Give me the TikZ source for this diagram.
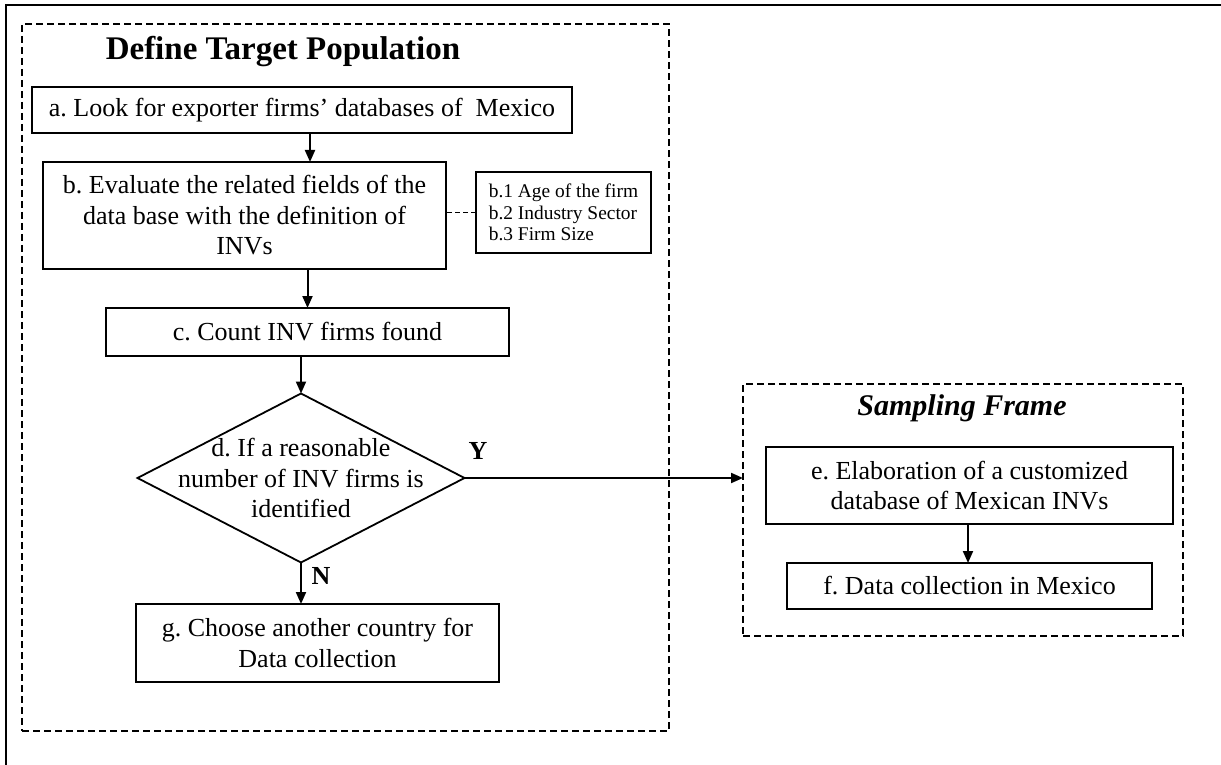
\documentclass[tikz,border=0pt]{standalone}
\usepackage{fontspec}
\setmainfont{Liberation Serif}
\usetikzlibrary{arrows.meta,shapes.geometric}

\begin{document}
\frenchspacing
\begin{tikzpicture}[x=1pt,y=-1pt,
  every node/.style={inner sep=0pt, outer sep=0pt},
  txt/.style={font=\fontsize{26}{30.5}\selectfont, align=center},
  stepbox/.style={draw, line width=2pt, txt},
  notebox/.style={draw, line width=2pt, font=\fontsize{19.4}{21.5}\selectfont, align=left},
  group/.style={draw, line width=1.8pt, dash pattern=on 7pt off 4pt},
  decision/.style={diamond, draw, line width=1.8pt},
  flow/.style={line width=2pt, -{Triangle[length=12pt,width=10pt]}},
  tag/.style={font=\fontsize{26}{30}\selectfont\bfseries},
]
\useasboundingbox (0,0) rectangle (1221,765);

% outer page frame (only top and left edges show)
\coordinate (frameTL) at (6,5);
\coordinate (frameTR) at (1221,5);
\coordinate (frameBL) at (6,765);
\draw[line width=2pt] (frameBL) -- (frameTL) -- (frameTR);

% groups
\node[group, minimum width=647pt, minimum height=707pt] (pop) at (345.5,377.5) {};
\node[font=\fontsize{33}{36}\selectfont\bfseries] (popT) at (283,52) {Define Target Population};

\node[group, minimum width=440pt, minimum height=252pt] (sf) at (963,510) {};
\node[font=\fontsize{30}{34}\selectfont\bfseries\itshape] (sfT) at (962,408) {Sampling Frame};

% steps
\node[stepbox, minimum width=540pt, minimum height=46pt] (a) at (302,110)
  {a. Look for exporter firms' databases of\ \ Mexico};
\node[stepbox, minimum width=403pt, minimum height=107pt] (b) at (244.5,215.5)
  {b. Evaluate the related fields of the\\data base with the definition of\\INVs};
\node[notebox, minimum width=175pt, minimum height=81pt] (bn) at (563.5,212.5)
  {b.1 Age of the firm\\b.2 Industry Sector\\b.3 Firm Size};
\node[stepbox, minimum width=403pt, minimum height=48pt] (c) at (307.5,332)
  {c. Count INV firms found};
\node[decision, minimum width=327pt, minimum height=169pt] (d) at (301,478) {};
\node[txt] (dtext) at (d.center) {d. If a reasonable\\number of INV firms is\\identified};
\node[stepbox, minimum width=363pt, minimum height=78pt] (g) at (317.5,643)
  {g. Choose another country for\\Data collection};
\node[stepbox, minimum width=407pt, minimum height=77pt] (e) at (969.5,485.5)
  {e. Elaboration of a customized\\database of Mexican INVs};
\node[stepbox, minimum width=365pt, minimum height=46pt] (f) at (969.5,586)
  {f. Data collection in Mexico};

% branch labels
\node[tag] (yes) at (478,451) {Y};
\node[tag] (no) at (321,576) {N};

% connectors
\draw[flow] ([xshift=8pt]a.south) -- ([xshift=8pt]a.south |- b.north);
\draw[line width=1.8pt, dash pattern=on 5pt off 3pt] (bn.west) -- (bn.west -| b.east);
\draw[flow] (c.north |- b.south) -- (c.north);
\draw[flow] (d.north |- c.south) -- (d.north);
\draw[flow] (d.south) -- (d.south |- g.north);
\draw[flow] (d.east) -- (d.east -| sf.west);
\draw[flow] ([xshift=-1.5pt]e.south) -- ([xshift=-1.5pt]e.south |- f.north);
\end{tikzpicture}
\end{document}
